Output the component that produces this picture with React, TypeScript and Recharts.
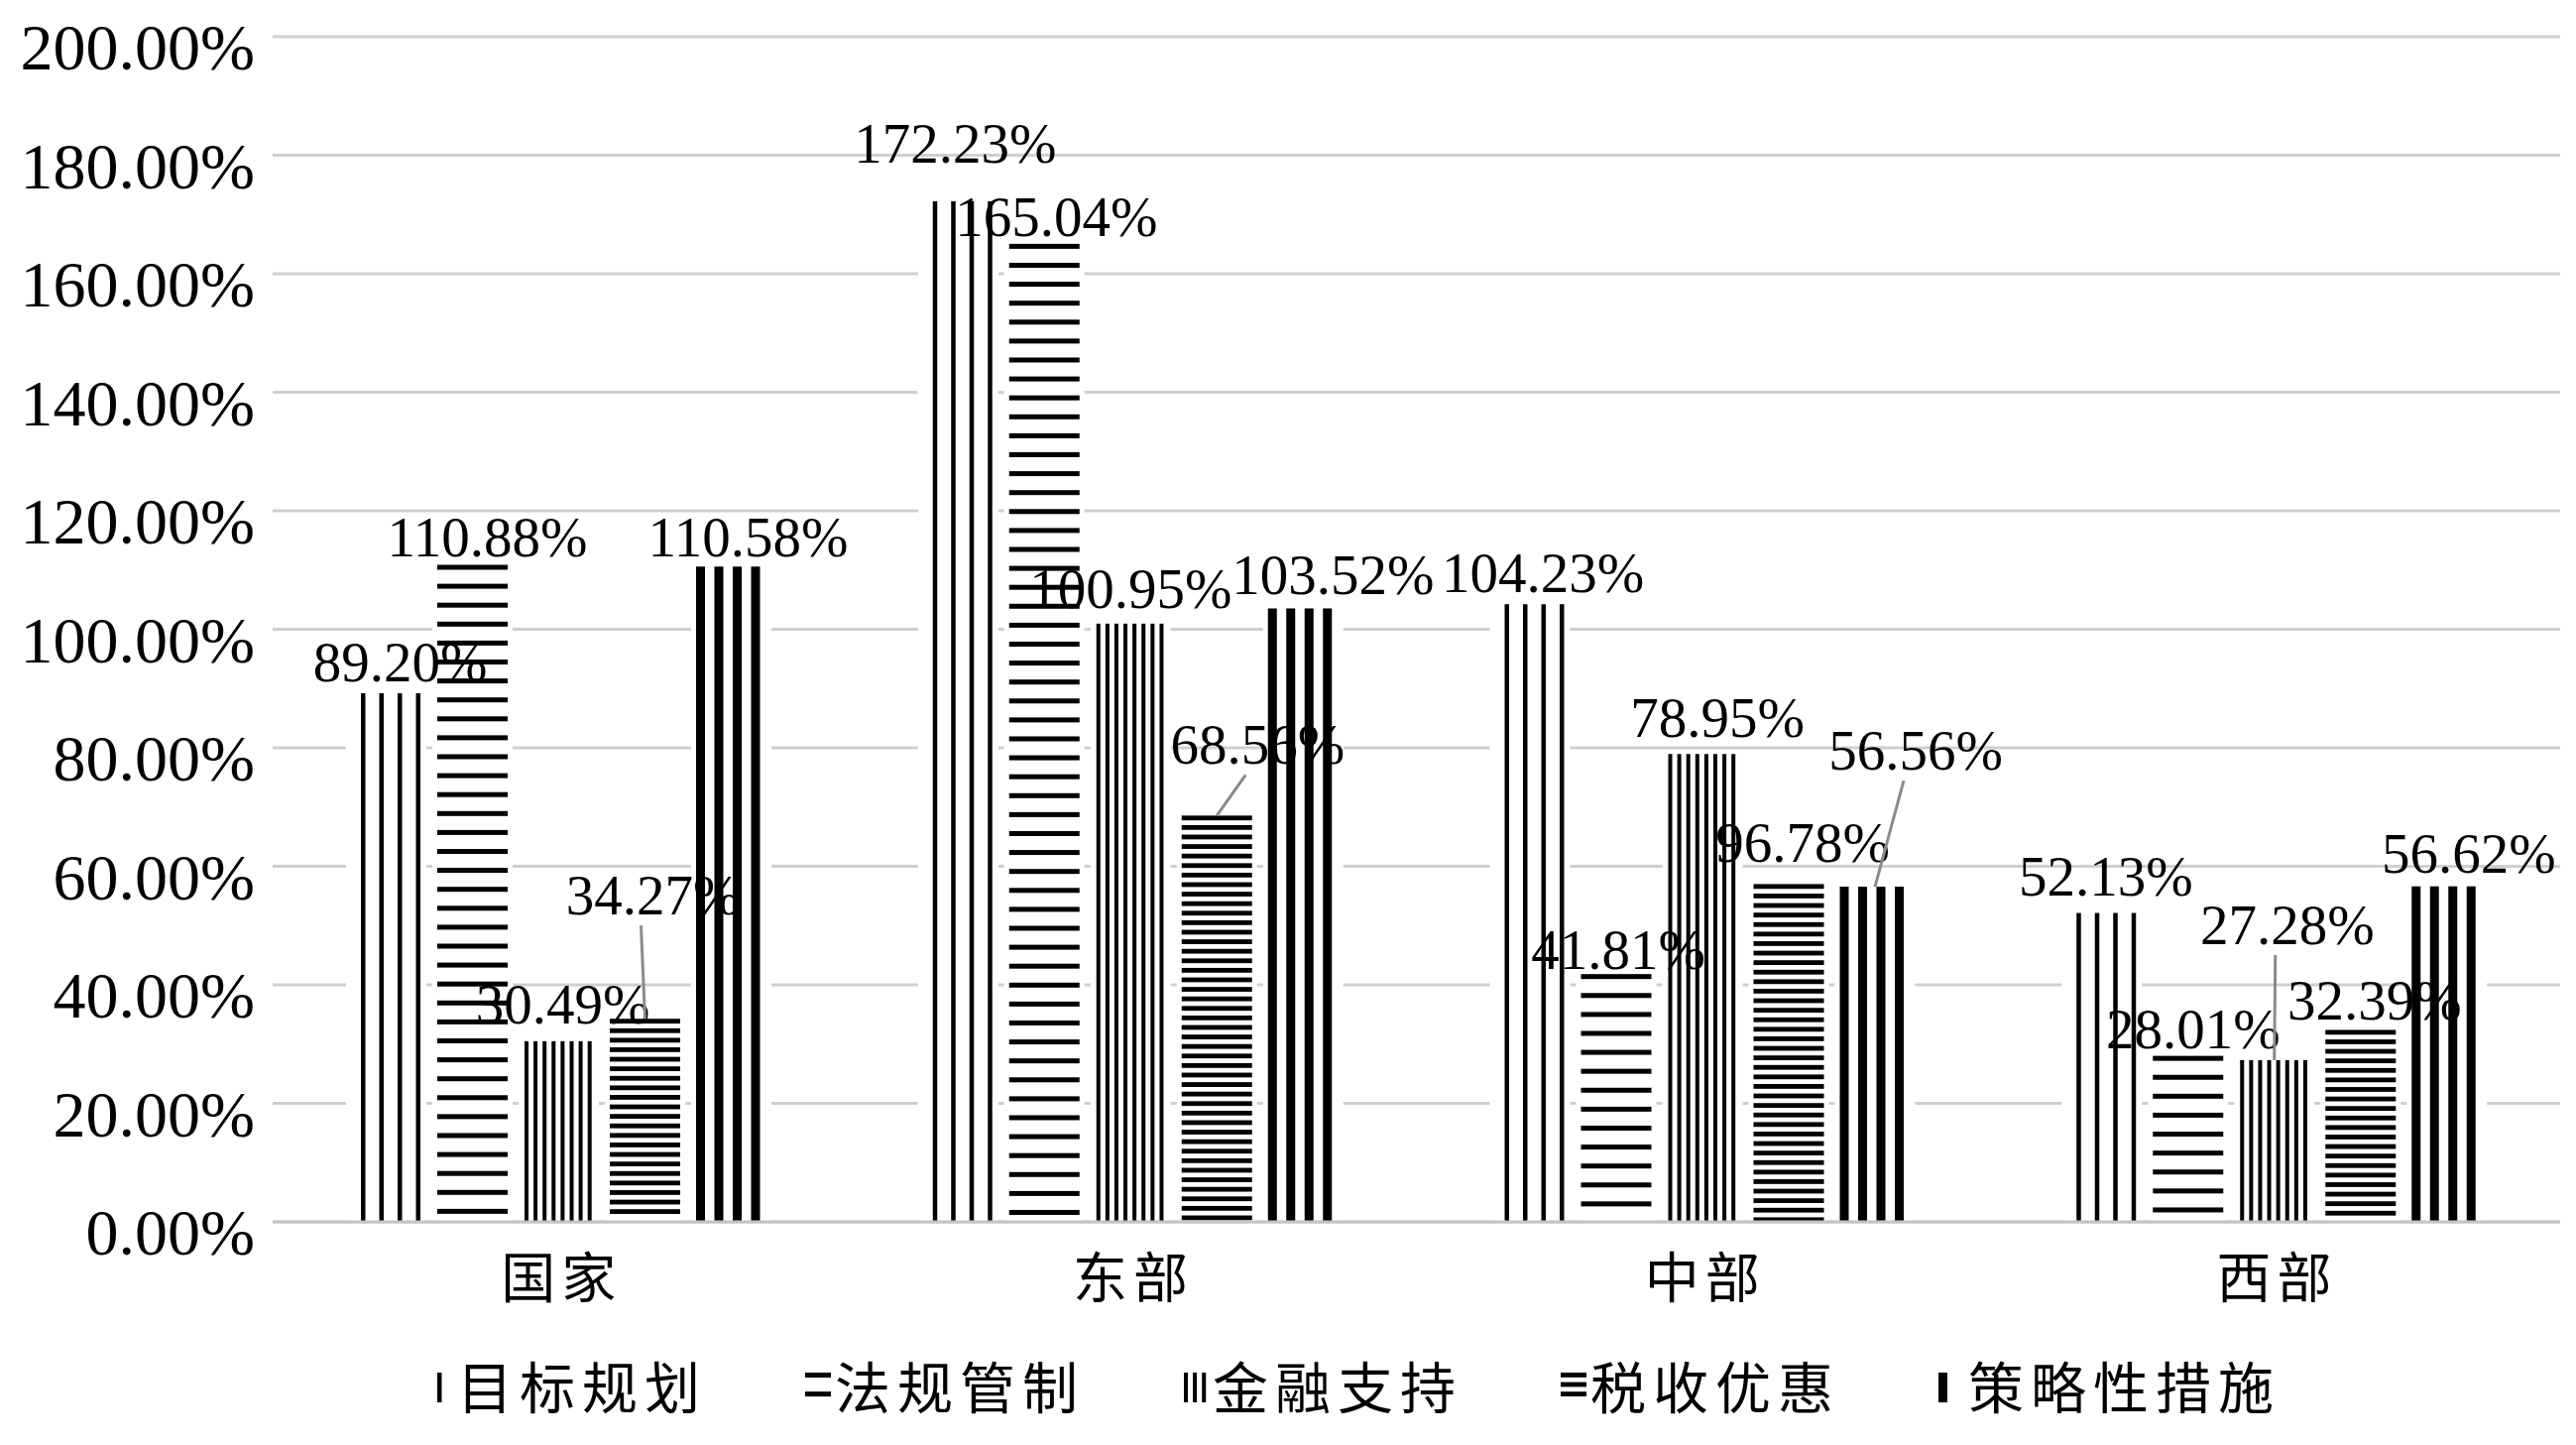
import React from 'react';
import { BarChart, Bar, XAxis, YAxis, CartesianGrid, LabelList } from 'recharts';

// ---- data ----
const categories = ['国家', '东部', '中部', '西部'];
const seriesNames = ['目标规划', '法规管制', '金融支持', '税收优惠', '策略性措施'];

const targetPlanning = [89.2, 172.23, 104.23, 52.13];
const regulation = [110.88, 165.04, 41.81, 28.01];
const financialSupport = [30.49, 100.95, 78.95, 27.28];
const taxPreference = [34.27, 68.56, 57.0, 32.39];
const strategicMeasures = [110.58, 103.52, 56.56, 56.62];

const targetPlanningLabels = ['89.20%', '172.23%', '104.23%', '52.13%'];
const regulationLabels = ['110.88%', '165.04%', '41.81%', '28.01%'];
const financialSupportLabels = ['30.49%', '100.95%', '78.95%', '27.28%'];
const taxPreferenceLabels = ['34.27%', '68.56%', '96.78%', '32.39%'];
const strategicMeasuresLabels = ['110.58%', '103.52%', '56.56%', '56.62%'];

const yTicks = [0, 20, 40, 60, 80, 100, 120, 140, 160, 180, 200];

const seriesValues = [targetPlanning, regulation, financialSupport, taxPreference, strategicMeasures];
const seriesLabels = [
  targetPlanningLabels,
  regulationLabels,
  financialSupportLabels,
  taxPreferenceLabels,
  strategicMeasuresLabels,
];

const data = categories.map((c, i) => {
  const row: any = { category: c };
  seriesValues.forEach((vals, s) => {
    row[`s${s}`] = vals[i];
    row[`l${s}`] = seriesLabels[s][i];
  });
  return row;
});

// ---- label placement (relative to bar top centre) ----
const labelOffsets = [
  [[14, -31], [-3, -58], [13, -31], [4, -37]],
  [[15, -27], [12, -27], [2, -24], [5, -27]],
  [[4, -37], [0, -35], [15, -36], [13, -136]],
  [[8, -124], [41, -71], [14, -41], [14, -29]],
  [[17, -29], [30, -33], [41, -137], [22, -33]],
];
const leaderLines = [
  [false, false, false, false],
  [false, false, false, false],
  [false, false, false, true],
  [true, true, false, false],
  [false, false, true, false],
];

// ---- styles ----
const PATTERNS = [
  { dir: 'v', start: 10, period: 18.5, lw: 4.5 },
  { dir: 'h', start: 0, period: 19.1, lw: 5 },
  { dir: 'v', start: 1, period: 9.1, lw: 4 },
  { dir: 'h', start: 0, period: 9.6, lw: 4.8 },
  { dir: 'v', start: 0, period: 18.5, lw: 9 },
];

const SERIF = '"Liberation Serif", "Times New Roman", serif';
const CJK = '"Noto Sans CJK SC", sans-serif';

function patternLines(p: any, x: number, y: number, w: number, h: number) {
  const out: any[] = [];
  if (p.dir === 'v') {
    for (let pos = p.start, k = 0; pos + p.lw <= w + 1; pos += p.period, k++) {
      out.push(<rect key={k} x={x + pos} y={y} width={p.lw} height={h} fill="#000" />);
    }
  } else {
    for (let pos = p.start, k = 0; pos + p.lw <= h + 0.5; pos += p.period, k++) {
      out.push(<rect key={k} x={x} y={y + pos} width={w} height={p.lw} fill="#000" />);
    }
  }
  return out;
}

const makeBarShape = (si: number) => (props: any) => {
  const { x, y, width, height } = props;
  if (!(height > 0)) return <g />;
  return (
    <g>
      <rect x={x - 5} y={y} width={width + 10} height={height} fill="#fff" />
      {patternLines(PATTERNS[si], x, y, width, height)}
    </g>
  );
};

const emptyShape = () => <g />;

const makeLabel = (si: number) => (props: any) => {
  const vb = props.viewBox && props.viewBox.width !== undefined ? props.viewBox : props;
  const x = Number(vb.x);
  const y = Number(vb.y);
  const width = Number(vb.width);
  let index = props.index;
  if (index === undefined || index === null) index = seriesLabels[si].indexOf(props.value);
  if (index < 0 || !labelOffsets[si][index]) return null;
  const [dx, dy] = labelOffsets[si][index];
  const bx = x + width / 2;
  const cx = bx + dx;
  const cy = y + dy;
  return (
    <g>
      {leaderLines[si][index] && (
        <line x1={cx - 12} y1={cy + 30} x2={bx} y2={y} stroke="#8a8a8a" strokeWidth={3} />
      )}
      <text x={cx} y={cy + 19} textAnchor="middle" fontFamily={SERIF} fontSize={57} fill="#000">
        {seriesLabels[si][index]}
      </text>
    </g>
  );
};

const YTick = (props: any) => {
  const { x, y, payload } = props;
  return (
    <text x={x} y={y + 33} textAnchor="end" fontFamily={SERIF} fontSize={66} fill="#000">
      {`${Number(payload.value).toFixed(2)}%`}
    </text>
  );
};

const XTick = (props: any) => {
  const { x, y, payload } = props;
  return (
    <text x={x + 3} y={y + 76} textAnchor="middle" fontFamily={CJK} fontSize={55} letterSpacing={6} fill="#000">
      {payload.value}
    </text>
  );
};

const Legend = () => {
  const items: any[] = [];
  let tx = 461;
  seriesNames.forEach((name, i) => {
    const sx = tx - 30;
    items.push(
      <g key={name}>
        {patternLines(PATTERNS[i], sx, 44, 26, 30)}
        <text x={tx} y={80} fontFamily={CJK} fontSize={56} letterSpacing={7} fill="#000">
          {name}
        </text>
      </g>
    );
    tx += name.length * 63 + 129;
  });
  return (
    <svg width={2598} height={117} style={{ position: 'absolute', left: 0, top: 1340 }}>
      {items}
    </svg>
  );
};

export default function App() {
  return (
    <div style={{ position: 'absolute', left: 0, top: 0, width: 2598, height: 1457, background: '#fff' }}>
      <BarChart
        width={2598}
        height={1457}
        data={data}
        margin={{ top: 37, right: 16, bottom: 0, left: 0 }}
        barGap={16}
      >
        <CartesianGrid vertical={false} stroke="#cfcfcf" strokeWidth={3} />
        <XAxis
          dataKey="category"
          height={225}
          tickLine={false}
          tickSize={0}
          tickMargin={0}
          interval={0}
          axisLine={{ stroke: '#c4c4c4', strokeWidth: 3 }}
          tick={<XTick />}
        />
        <XAxis xAxisId="lbl" dataKey="category" hide />
        <YAxis
          domain={[0, 200]}
          ticks={yTicks}
          interval={0}
          width={275}
          axisLine={false}
          tickLine={false}
          tickSize={0}
          tickMargin={18}
          tick={<YTick />}
        />
        {seriesNames.map((name, si) => (
          <Bar
            key={name}
            dataKey={`s${si}`}
            name={name}
            barSize={71}
            isAnimationActive={false}
            shape={makeBarShape(si)}
          />
        ))}
        {seriesNames.map((name, si) => (
          <Bar
            key={`lbl-${name}`}
            xAxisId="lbl"
            dataKey={`s${si}`}
            barSize={71}
            isAnimationActive={false}
            legendType="none"
            shape={emptyShape}
          >
            <LabelList dataKey={`l${si}`} content={makeLabel(si)} />
          </Bar>
        ))}
      </BarChart>
      <Legend />
    </div>
  );
}
